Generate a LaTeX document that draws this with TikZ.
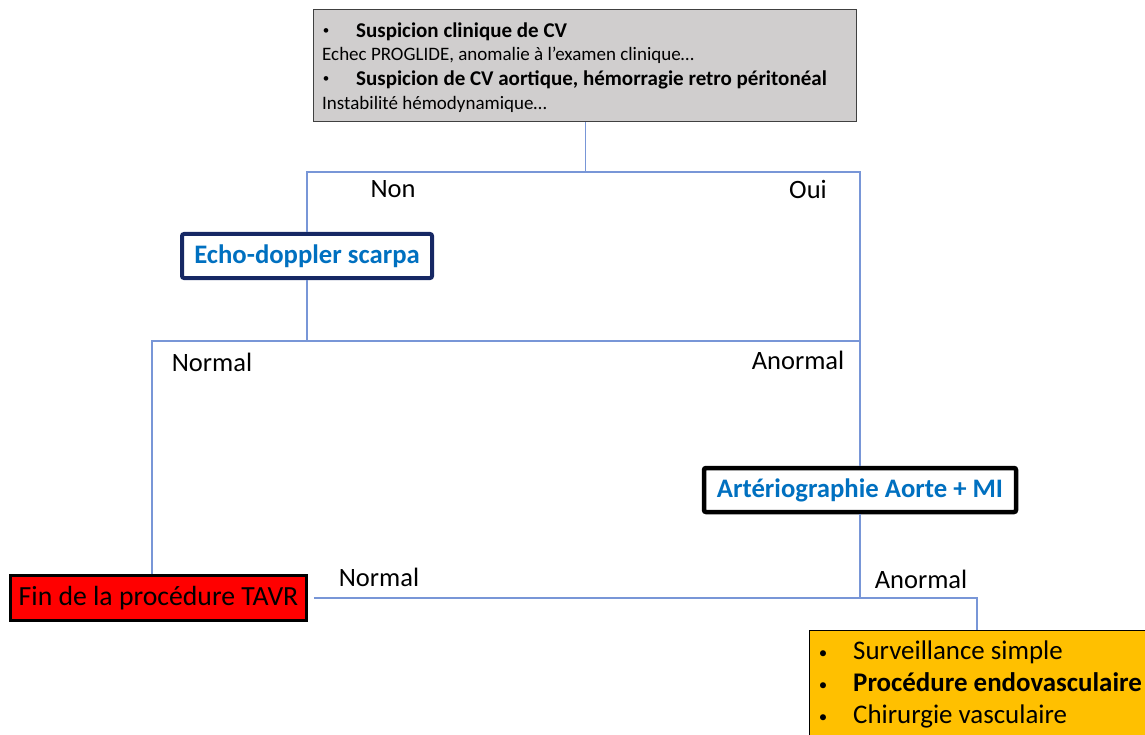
\documentclass[tikz,border=0pt]{standalone}
\usepackage{fontspec}
\setmainfont{Carlito}
\definecolor{lineblue}{RGB}{120,150,215}
\definecolor{txtblue}{RGB}{0,112,192}
\definecolor{navy}{RGB}{22,40,100}
\definecolor{topgray}{RGB}{208,206,206}
\definecolor{orangefill}{RGB}{255,192,0}
\tikzset{
  conn/.style={draw=lineblue, line width=1.2pt},
  lbl/.style={font=\fontsize{26.5}{30}\selectfont, inner sep=0pt},
  toptxt/.style={font=\fontsize{19}{22}\selectfont, inner sep=0pt, anchor=mid west},
  topbold/.style={font=\fontsize{21}{24}\selectfont\bfseries, inner sep=0pt, anchor=mid west},
  topbul/.style={font=\fontsize{13}{15}\selectfont, inner sep=0pt},
  restxt/.style={font=\fontsize{26.9}{30}\selectfont, inner sep=0pt, anchor=mid west},
  resbul/.style={font=\fontsize{17}{20}\selectfont, inner sep=0pt},
  bluebox/.style={fill=white, rounded corners=2pt, inner sep=0pt, text=txtblue,
     font=\fontsize{26.7}{30}\selectfont\bfseries},
}
\begin{document}
\begin{tikzpicture}[x=1pt,y=-1pt]
\useasboundingbox (0,0) rectangle (1145,735);
% top box
\node[draw=black!75, line width=1.2pt, fill=topgray, minimum width=543pt, minimum height=112pt, anchor=north west, inner sep=0pt] (top) at (313,9) {};
\node[topbul] (b1) at (326,32) {•};
\node[topbold] (t1) at (356,35) {Suspicion clinique de CV};
\node[toptxt] (t2) at (322,58) {Echec PROGLIDE, anomalie à l’examen clinique…};
\node[topbul] (b2) at (326,80) {•};
\node[topbold] (t3) at (356,83) {Suspicion de CV aortique, hémorragie retro péritonéal};
\node[toptxt] (t4) at (322,107) {Instabilité hémodynamique…};
% boxes
\node[bluebox, draw=navy, line width=4pt, minimum width=250pt, minimum height=44pt] (echo) at (307,256) {Echo-doppler scarpa};
\node[bluebox, draw=black, line width=4.5pt, minimum width=312pt, minimum height=44pt] (art) at (860,490) {Artériographie Aorte + MI};
\node[draw=black, line width=2.5pt, fill=red, minimum width=296pt, minimum height=45pt, inner sep=0pt, font=\fontsize{27.7}{30}\selectfont] (fin) at (158.5,598) {Fin de la procédure TAVR};
\node[draw=black, line width=1.2pt, fill=orangefill, minimum width=350pt, minimum height=120pt, anchor=north west, inner sep=0pt] (res) at (809,630) {};
\node[resbul] (rb1) at (823,655) {•};
\node[restxt] (r1) at (853,657) {Surveillance simple};
\node[resbul] (rb2) at (823,687) {•};
\node[restxt] (r2) at (853,689) {\bfseries Procédure endovasculaire};
\node[resbul] (rb3) at (823,719) {•};
\node[restxt] (r3) at (853,721) {Chirurgie vasculaire};
% coordinates
\coordinate (ouic) at (860,172);
\coordinate (h2L) at (152,341);
\coordinate (h2R) at (860,341);
\coordinate (c3) at (977,598);
% connectors
\draw[conn] (top.south) -- (top.south |- ouic);
\draw[conn] (echo.north) |- (ouic) -- (art.north);
\draw[conn] (echo.south) -- (echo.south |- h2L);
\draw[conn] (h2L |- fin.north) -- (h2L) -- (h2R);
\draw[conn] (art.south) -- (art.south |- c3);
\draw[conn] ([xshift=6pt]fin.east) -- (c3) -- (c3 |- res.north);
% labels
\node[lbl] (lnon) at (393,189) {Non};
\node[lbl] (loui) at (808,189) {Oui};
\node[lbl] (lnorm1) at (212,362) {Normal};
\node[lbl] (lanorm1) at (798,360) {Anormal};
\node[lbl] (lnorm2) at (379,577) {Normal};
\node[lbl] (lanorm2) at (921,579) {Anormal};
\end{tikzpicture}
\end{document}
